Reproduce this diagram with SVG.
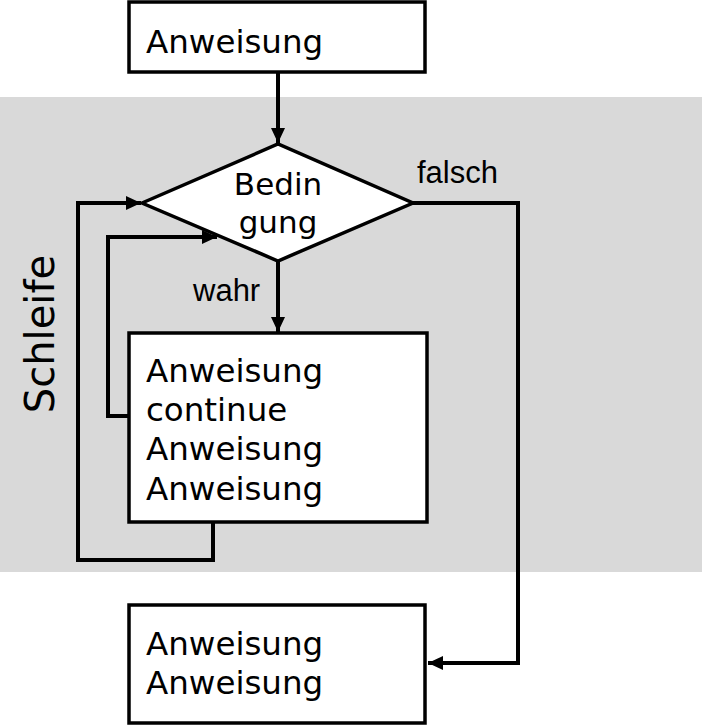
<svg xmlns="http://www.w3.org/2000/svg" width="702" height="725" viewBox="0 0 702 725">
<defs>
<style>
.box{fill:#fff;stroke:#000;stroke-width:3.5}
.main{font-family:"DejaVu Sans",sans-serif;font-size:32.5px;fill:#000}
.lbl{font-family:"Liberation Sans",Arial,sans-serif;font-size:31px;fill:#000}
.cond{font-family:"DejaVu Sans",sans-serif;font-size:31px;fill:#000;text-anchor:middle}
.conn{fill:none;stroke:#000;stroke-width:4;stroke-linejoin:miter}
</style>
<marker id="ah" markerUnits="userSpaceOnUse" markerWidth="16" markerHeight="14" refX="15" refY="7" orient="auto">
<path d="M0,0 L15,7 L0,14 Z" fill="#000"/>
</marker>
</defs>
<rect x="0" y="97" width="702" height="475" fill="#d9d9d9"/>
<text class="main" transform="translate(54,334) rotate(-90)" style="font-size:40px;text-anchor:middle" x="0" y="0">Schleife</text>
<g id="connectors">
<path class="conn" d="M278,72 V143" marker-end="url(#ah)"/>
<path class="conn" d="M278,261 V332" marker-end="url(#ah)"/>
<path class="conn" d="M213,522 V560 H78 V203 H141" marker-end="url(#ah)"/>
<path class="conn" d="M142,416 H108 V237 H217" marker-end="url(#ah)"/>
<path class="conn" d="M413,203 H518 V663 H428" marker-end="url(#ah)"/>
</g>
<g id="start">
<rect class="box" x="129" y="2" width="296" height="70"/>
<text class="main" x="146" y="53">Anweisung</text>
</g>
<g id="condition">
<polygon class="box" points="142,203 278,144 413,203 278,261"/>
<text class="cond" x="278" y="195">Bedin</text>
<text class="cond" x="278" y="233">gung</text>
</g>
<text class="lbl" x="417" y="183">falsch</text>
<text class="lbl" x="193" y="301">wahr</text>
<g id="body">
<rect class="box" x="129" y="333" width="298" height="189"/>
<text class="main" x="146" y="382">Anweisung</text>
<text class="main" x="146" y="421">continue</text>
<text class="main" x="146" y="460">Anweisung</text>
<text class="main" x="146" y="500">Anweisung</text>
</g>
<g id="after">
<rect class="box" x="129" y="605" width="296" height="118"/>
<text class="main" x="146" y="655">Anweisung</text>
<text class="main" x="146" y="694">Anweisung</text>
</g>
</svg>
